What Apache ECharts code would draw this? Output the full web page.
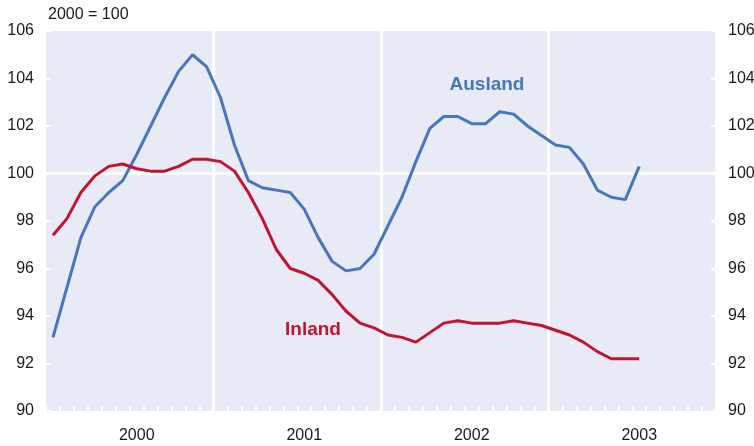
<!DOCTYPE html>
<html>
<head>
<meta charset="utf-8">
<script src="https://cdn.jsdelivr.net/npm/echarts@6/dist/echarts.min.js"></script>
<style>
  html, body { margin: 0; padding: 0; background: #fff; }
  #chart { width: 754px; height: 446px; }
</style>
</head>
<body>
<div id="chart"></div>
<script>
// months Jan 2000 .. Dec 2003, one category each
const years = ['2000', '2001', '2002', '2003']
const months = []
years.forEach(y => { for (let m = 1; m <= 12; m++) months.push(y + '-' + m) })

// index values, 2000 = 100 (Jan 2000 .. Jul 2003)
const ausland = [93.1, 95.2, 97.3, 98.6, 99.2, 99.7, 100.8, 102.0, 103.2, 104.3, 105.0, 104.5,
  103.2, 101.2, 99.7, 99.4, 99.3, 99.2, 98.5, 97.3, 96.3, 95.9, 96.0, 96.6,
  97.8, 99.0, 100.5, 101.9, 102.4, 102.4, 102.1, 102.1, 102.6, 102.5, 102.0, 101.6,
  101.2, 101.1, 100.4, 99.3, 99.0, 98.9, 100.3]
const inland = [97.4, 98.1, 99.2, 99.9, 100.3, 100.4, 100.2, 100.1, 100.1, 100.3, 100.6, 100.6,
  100.5, 100.1, 99.2, 98.1, 96.8, 96.0, 95.8, 95.5, 94.9, 94.2, 93.7, 93.5,
  93.2, 93.1, 92.9, 93.3, 93.7, 93.8, 93.7, 93.7, 93.7, 93.8, 93.7, 93.6,
  93.4, 93.2, 92.9, 92.5, 92.2, 92.2, 92.2]
const yTicks = [90, 92, 94, 96, 98, 100, 102, 104, 106]

const blue = '#4677be'
const red = '#c3132f'
const font = 'Liberation Sans, Arial, sans-serif'

const chart = echarts.init(document.getElementById('chart'))

// only the 100 line is drawn across the plot
const hLineColors = yTicks.map(v => (v === 100 ? '#ffffff' : 'rgba(0,0,0,0)'))

const yAxisBase = {
  type: 'value',
  min: yTicks[0],
  max: yTicks[yTicks.length - 1],
  interval: 2,
  axisLine: { show: false },
  axisTick: { show: true, inside: true, length: 5, lineStyle: { color: '#fff', width: 2 } },
  axisLabel: { color: '#1a1a1a', fontSize: 16, fontFamily: font, margin: 12 }
}

chart.setOption({
  animation: false,
  grid: {
    left: 46,
    right: 38,
    top: 31,
    bottom: 35,
    outerBoundsMode: 'none',
    containLabel: false,
    show: true,
    backgroundColor: '#e8eaf6',
    borderWidth: 0
  },
  xAxis: {
    type: 'category',
    data: months,
    boundaryGap: true,
    axisLine: { show: false },
    axisTick: {
      show: true,
      inside: true,
      interval: 0,
      length: 5,
      lineStyle: { color: '#fff', width: 2 }
    },
    axisLabel: {
      interval: (i) => i % 12 === 6,
      formatter: (v) => v.split('-')[0],
      color: '#1a1a1a',
      fontSize: 16,
      fontFamily: font,
      margin: 17
    },
    splitLine: {
      show: true,
      interval: (i) => i % 12 === 0 && i > 0,
      lineStyle: { color: '#fff', width: 3 }
    }
  },
  yAxis: [
    Object.assign({}, yAxisBase, {
      position: 'left',
      splitLine: { show: true, lineStyle: { color: hLineColors, width: 3 } }
    }),
    Object.assign({}, yAxisBase, {
      position: 'right',
      splitLine: { show: false }
    })
  ],
  series: [
    {
      name: 'Ausland',
      type: 'line',
      data: ausland,
      symbol: 'none',
      lineStyle: { color: blue, width: 3 },
      z: 3
    },
    {
      name: 'Inland',
      type: 'line',
      data: inland,
      symbol: 'none',
      lineStyle: { color: red, width: 3 },
      z: 4
    }
  ],
  graphic: [
    {
      type: 'text',
      left: 48,
      top: 7,
      style: { text: '2000 = 100', fill: '#1a1a1a', font: '16px ' + font }
    },
    {
      type: 'text',
      x: 487,
      y: 85,
      style: { text: 'Ausland', fill: blue, font: 'bold 19px ' + font, align: 'center', verticalAlign: 'middle' }
    },
    {
      type: 'text',
      x: 313,
      y: 330,
      style: { text: 'Inland', fill: red, font: 'bold 19px ' + font, align: 'center', verticalAlign: 'middle' }
    }
  ]
})
</script>
</body>
</html>
